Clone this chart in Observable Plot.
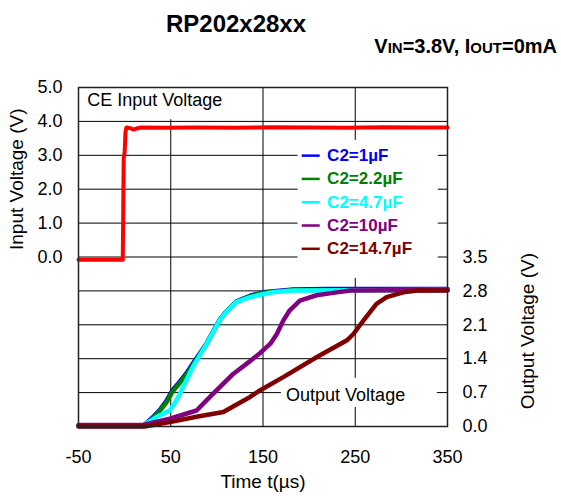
<!DOCTYPE html>
<html><head><meta charset="utf-8">
<script src="https://cdn.jsdelivr.net/npm/d3@7"></script>
<script src="https://cdn.jsdelivr.net/npm/@observablehq/plot@0.6"></script>
<style>
body{margin:0;background:#fff;font-family:"Liberation Sans",Arial,sans-serif;}
#wrap{position:relative;width:561px;height:496px;}
#title{position:absolute;left:116px;width:240px;top:12px;text-align:center;font-weight:bold;font-size:24px;line-height:24px;z-index:2;}
#sub{position:absolute;right:4px;top:36px;font-weight:bold;font-size:20px;line-height:20px;z-index:2;white-space:nowrap;}
#sub .s{font-size:15px;}
</style></head><body>
<div id="wrap">
<div id="title">RP202x28xx</div>
<div id="sub">V<span class="s">IN</span>=3.8V, I<span class="s">OUT</span>=0mA</div>
</div>
<script>
// ---- data ----
const xTicks = [-50, 50, 150, 250, 350];
const inputTicks = [0, 1, 2, 3, 4, 5];
const outputTicks = [0, 0.7, 1.4, 2.1, 2.8, 3.5];
const seriesNames = ["C2=1µF", "C2=2.2µF", "C2=4.7µF", "C2=10µF", "C2=14.7µF"];
const seriesColors = ["#0000ff", "#008000", "#00ffff", "#800080", "#800000"];

// CE input voltage (left axis, V)
const ceT = [-50, -2, -1, 0, 1, 2, 6, 10, 14, 18, 40, 80, 120, 160, 200, 240, 280, 320, 350];
const ceV = [-0.08, -0.08, 2.9, 3.1, 3.7, 3.82, 3.8, 3.76, 3.8, 3.82, 3.81, 3.82, 3.81, 3.83, 3.82, 3.81, 3.83, 3.82, 3.82];

// Output voltage (right axis, V)
const c1T = [-50, 20, 30, 38, 45, 52, 60, 67, 74, 89, 103, 110, 121, 136, 150, 183, 220, 350];
const c1V = [0.01, 0.01, 0.18, 0.34, 0.52, 0.75, 0.93, 1.1, 1.3, 1.72, 2.2, 2.37, 2.58, 2.7, 2.77, 2.83, 2.84, 2.84];
const c2T = [-50, 20, 30, 38, 45, 52, 60, 67, 74, 89, 103, 110, 121, 136, 150, 183, 350];
const c2V = [0.01, 0.01, 0.16, 0.32, 0.49, 0.72, 0.9, 1.07, 1.27, 1.71, 2.19, 2.36, 2.57, 2.69, 2.76, 2.82, 2.82];
const c3T = [-50, 20, 22, 34, 49, 54, 60, 74, 89, 103, 110, 121, 136, 147, 160, 183, 350];
const c3V = [0.01, 0.01, 0.05, 0.19, 0.33, 0.47, 0.68, 1.23, 1.71, 2.19, 2.36, 2.57, 2.67, 2.72, 2.77, 2.81, 2.82];
const c4T = [-50, 20, 49, 78, 96, 118, 136, 147, 158, 165, 172, 179, 190, 208, 230, 245, 350];
const c4V = [0.03, 0.03, 0.16, 0.33, 0.68, 1.09, 1.35, 1.52, 1.71, 1.91, 2.19, 2.4, 2.6, 2.71, 2.77, 2.81, 2.82];
const c5T = [-50, 22, 49, 78, 107, 136, 147, 172, 208, 241, 248, 259, 273, 284, 302, 317, 350];
const c5V = [0, 0, 0.09, 0.2, 0.3, 0.61, 0.75, 1.02, 1.43, 1.78, 1.91, 2.19, 2.53, 2.67, 2.77, 2.81, 2.81];

// ---- build ----
const outT = [c1T, c2T, c3T, c4T, c5T];
const outV = [c1V, c2V, c3V, c4V, c5V];
const toY = v => v * 10 / 7 - 5;           // right axis 0..7 onto the left scale -5..5
const fromY = y => (y + 5) * 0.7;
const ceRows = ceT.map((t, i) => ({t, v: ceV[i]}));
const outRows = outT.map((ts, k) => ts.map((t, i) => ({t, v: outV[k][i], s: seriesNames[k]})));
const legendRows = seriesNames.map((s, i) => ({s, c: seriesColors[i], y: 2.99 - i * 0.687}));

const font = "'Liberation Sans', Arial, sans-serif";
const plot = Plot.plot({
  width: 561, height: 496,
  marginTop: 87, marginBottom: 70, marginLeft: 78, marginRight: 114,
  style: {fontFamily: font, fontSize: "18px", color: "#000", background: "transparent"},
  x: {domain: [-50, 350]},
  y: {domain: [-5, 5]},
  marks: [
    Plot.ruleY([-4, -3, -2, -1, 0, 1, 2, 3, 4], {stroke: "#000", strokeWidth: 1}),
    Plot.ruleX([50, 150, 250], {stroke: "#000", strokeWidth: 1}),
    // white label boxes
    Plot.rect([{x1: -50, x2: 125, y1: 4.05, y2: 5}, {x1: 188, x2: 340, y1: -0.63, y2: 3.44}, {x1: 170, x2: 339, y1: -4.44, y2: -3.58}],
      {x1: "x1", x2: "x2", y1: "y1", y2: "y2", fill: "white"}),
    ...outRows.map((rows, k) => Plot.line(rows, {x: "t", y: d => toY(d.v), stroke: seriesColors[k], strokeWidth: 4.5, strokeLinejoin: "round"})),
    Plot.line(ceRows, {x: "t", y: "v", stroke: "#ff0000", strokeWidth: 4, strokeLinejoin: "round"}),
    Plot.frame({stroke: "#222", strokeWidth: 1.5}),
    Plot.axisX(xTicks, {tickSize: 0, tickPadding: 24, label: null, fontSize: 18, tickFormat: d => String(d)}),
    Plot.axisY(inputTicks, {anchor: "left", tickSize: 0, tickPadding: 16, label: null, tickFormat: d => d.toFixed(1), fontSize: 18}),
    Plot.axisY(outputTicks.map(toY), {anchor: "right", tickSize: 0, tickPadding: 15, label: null, tickFormat: d => fromY(d).toFixed(1), fontSize: 18}),
    Plot.text(["Time t(µs)"], {frameAnchor: "bottom", dy: 61, fontSize: 19}),
    Plot.text(["Input Voltage (V)"], {frameAnchor: "left", dx: -62, dy: -7, rotate: -90, fontSize: 19}),
    Plot.text(["Output Voltage (V)"], {frameAnchor: "right", dx: 80, dy: -4, rotate: -90, fontSize: 19}),
    Plot.text(["CE Input Voltage"], {x: -40.5, y: 4.62, textAnchor: "start", fontSize: 18}),
    Plot.text(["Output Voltage"], {x: 175, y: -4.09, textAnchor: "start", fontSize: 18}),
    Plot.ruleY(legendRows, {y: "y", x1: 192.5, x2: 212, stroke: "c", strokeWidth: 2.5}),
    Plot.text(legendRows, {x: 219.5, y: "y", text: "s", fill: "c", textAnchor: "start", fontWeight: "bold", fontSize: 17})
  ]
});
document.getElementById("wrap").appendChild(plot);
plot.style.position = "absolute"; plot.style.left = "0"; plot.style.top = "0";
</script>
</body></html>
